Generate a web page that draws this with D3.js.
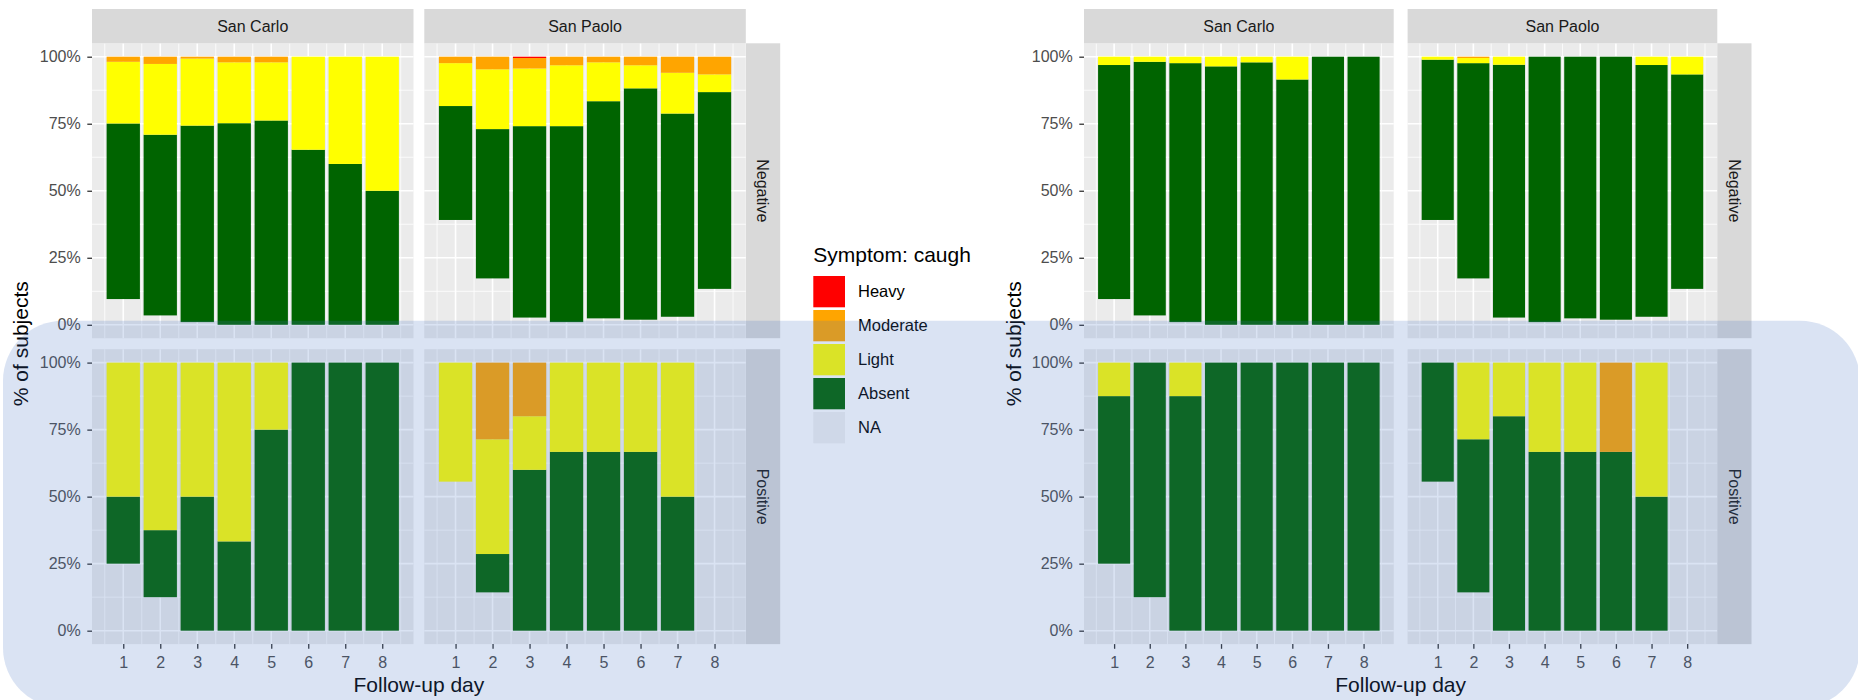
<!DOCTYPE html>
<html>
<head>
<meta charset="utf-8">
<script src="https://cdn.jsdelivr.net/npm/d3@7"></script>
<style>
  body { margin: 0; background: #fff; }
  svg { display: block; }
  text { font-family: "Liberation Sans", Arial, sans-serif; }
</style>
</head>
<body>
<svg id="chart" width="1858" height="700"></svg>
<script>
// ---- Categories and tick labels ----
const days = [1, 2, 3, 4, 5, 6, 7, 8];
const sites = ["San Carlo", "San Paolo"];
const results = ["Negative", "Positive"];
const levels = ["NA", "Absent", "Light", "Moderate", "Heavy"];   // stacking order, bottom to top
const legendOrder = ["Heavy", "Moderate", "Light", "Absent", "NA"];
const pctTicks = [0, 25, 50, 75, 100];
const legendTitle = "Symptom: caugh";

// ---- Share of subjects (%) per follow-up day ----
// Missing answers (same subjects in both symptom panels)
const naCarloNeg = [9.6, 3.5, 1.0, 0, 0, 0, 0, 0];
const naPaoloNeg = [39.1, 17.3, 2.7, 1.0, 2.4, 1.9, 3.0, 13.4];
const naCarloPos = [25, 12.5, 0, 0, 0, 0, 0, 0];
const naPaoloPos = [55.6, 14.3, 0, 0, 0, 0, 0, 0];

// Cough: rows are Absent, Light, Moderate, Heavy
const coughCarloNeg = [
  [65.5, 67.4, 73.3, 75.2, 76.2, 65.3, 60.0, 50.0],
  [23.0, 26.4, 25.0, 22.7, 21.7, 34.7, 40.0, 50.0],
  [1.9, 2.7, 0.7, 2.1, 2.1, 0, 0, 0],
  [0, 0, 0, 0, 0, 0, 0, 0]
];
const coughPaoloNeg = [
  [42.5, 55.7, 71.4, 73.1, 81.0, 86.3, 75.8, 73.4],
  [16.0, 22.3, 21.5, 22.7, 14.5, 8.6, 15.2, 6.6],
  [2.4, 4.7, 3.9, 3.2, 2.1, 3.2, 6.0, 6.6],
  [0, 0, 0.5, 0, 0, 0, 0, 0]
];
const coughCarloPos = [
  [25, 25, 50, 33.3, 75, 100, 100, 100],
  [50, 62.5, 50, 66.7, 25, 0, 0, 0],
  [0, 0, 0, 0, 0, 0, 0, 0],
  [0, 0, 0, 0, 0, 0, 0, 0]
];
const coughPaoloPos = [
  [0, 14.3, 60, 66.7, 66.7, 66.7, 50, 0],
  [44.4, 42.8, 20, 33.3, 33.3, 33.3, 50, 0],
  [0, 28.6, 20, 0, 0, 0, 0, 0],
  [0, 0, 0, 0, 0, 0, 0, 0]
];

// Second symptom: rows are Absent, Light, Moderate, Heavy
const symptomBCarloNeg = [
  [87.3, 94.6, 96.6, 96.4, 97.9, 91.5, 100, 100],
  [3.1, 1.9, 2.4, 3.6, 2.1, 8.5, 0, 0],
  [0, 0, 0, 0, 0, 0, 0, 0],
  [0, 0, 0, 0, 0, 0, 0, 0]
];
const symptomBPaoloNeg = [
  [59.8, 80.3, 94.3, 99.0, 97.6, 98.1, 93.9, 80.0],
  [1.1, 1.9, 3.0, 0, 0, 0, 3.1, 6.6],
  [0, 0.5, 0, 0, 0, 0, 0, 0],
  [0, 0, 0, 0, 0, 0, 0, 0]
];
const symptomBCarloPos = [
  [62.5, 87.5, 87.5, 100, 100, 100, 100, 100],
  [12.5, 0, 12.5, 0, 0, 0, 0, 0],
  [0, 0, 0, 0, 0, 0, 0, 0],
  [0, 0, 0, 0, 0, 0, 0, 0]
];
const symptomBPaoloPos = [
  [44.4, 57.1, 80, 66.7, 66.7, 66.7, 50, 0],
  [0, 28.6, 20, 33.3, 33.3, 0, 50, 0],
  [0, 0, 0, 0, 0, 33.3, 0, 0],
  [0, 0, 0, 0, 0, 0, 0, 0]
];

// ---- Styling ----
const fillColor = d3.scaleOrdinal()
  .domain(levels)
  .range(["#F2F2F2", "#006400", "#FFFF00", "#FFA500", "#FF0000"]);

const svg = d3.select("#chart");
svg.append("rect").attr("width", 1858).attr("height", 700).attr("fill", "#fff");

// facet grid geometry shared by both charts
const stripTop = 9;
const rowTop = [43.3, 349.2], panelH = 294.9;
const stripH = rowTop[0] - stripTop;
const stripRW = 34.2;

function buildRecords(na, rows) {
  return days.map((d, i) => {
    const r = { day: d, NA: na[i] };
    levels.slice(1).forEach((k, j) => { r[k] = rows[j][i]; });
    return r;
  });
}

function drawChart(cfg) {
  const g = svg.append("g");
  const naGrid = [[naCarloNeg, naPaoloNeg], [naCarloPos, naPaoloPos]];

  results.forEach((res, ri) => {
    const top = rowTop[ri];
    const y = d3.scaleLinear().domain([-5, 105]).range([top + panelH, top]);

    sites.forEach((site, si) => {
      const left = cfg.panelLeft[si];
      const x = d3.scaleLinear().domain([0.155, 8.845]).range([left, left + cfg.panelW]);
      const p = g.append("g");

      // panel background
      p.append("rect").attr("x", left).attr("y", top)
        .attr("width", cfg.panelW).attr("height", panelH).attr("fill", "#EBEBEB");

      // minor grid
      const minorX = d3.range(0.5, 9, 1);
      const minorY = [12.5, 37.5, 62.5, 87.5];
      p.selectAll(".mnx").data(minorX).join("line")
        .attr("x1", d => x(d)).attr("x2", d => x(d))
        .attr("y1", top).attr("y2", top + panelH)
        .attr("stroke", "#fff").attr("stroke-width", 0.8);
      p.selectAll(".mny").data(minorY).join("line")
        .attr("y1", d => y(d)).attr("y2", d => y(d))
        .attr("x1", left).attr("x2", left + cfg.panelW)
        .attr("stroke", "#fff").attr("stroke-width", 0.8);
      // major grid
      p.selectAll(".mjx").data(days).join("line")
        .attr("x1", d => x(d)).attr("x2", d => x(d))
        .attr("y1", top).attr("y2", top + panelH)
        .attr("stroke", "#fff").attr("stroke-width", 1.6);
      p.selectAll(".mjy").data(pctTicks).join("line")
        .attr("y1", d => y(d)).attr("y2", d => y(d))
        .attr("x1", left).attr("x2", left + cfg.panelW)
        .attr("stroke", "#fff").attr("stroke-width", 1.6);

      // stacked bars (missing answers left undrawn)
      const records = buildRecords(naGrid[ri][si], cfg.data[ri][si]);
      const stacked = d3.stack().keys(levels)(records);
      stacked.filter(s => s.key !== "NA").forEach(s => {
        p.selectAll(null).data(s.filter(d => d[1] - d[0] > 0)).join("rect")
          .attr("x", d => x(d.data.day - 0.45))
          .attr("width", d => x(d.data.day + 0.45) - x(d.data.day - 0.45))
          .attr("y", d => y(d[1]))
          .attr("height", d => y(d[0]) - y(d[1]))
          .attr("fill", fillColor(s.key));
      });

      // y axis on the left column only
      if (si === 0) {
        const ay = p.append("g").attr("transform", `translate(${left},0)`)
          .call(d3.axisLeft(y).tickValues(pctTicks).tickFormat(d => d + "%")
            .tickSize(4.7).tickPadding(6.6));
        ay.select(".domain").remove();
        ay.selectAll("line").attr("stroke", "#333").attr("stroke-width", 1.3);
        ay.selectAll("text").attr("fill", "#4D4D4D").attr("font-size", 16)
          .attr("font-family", "Liberation Sans, Arial, sans-serif");
      }
      // x axis on the bottom row only
      if (ri === 1) {
        const ax = p.append("g").attr("transform", `translate(0,${top + panelH})`)
          .call(d3.axisBottom(x).tickValues(days).tickFormat(d3.format("d"))
            .tickSize(4.7).tickPadding(8));
        ax.select(".domain").remove();
        ax.selectAll("line").attr("stroke", "#333").attr("stroke-width", 1.3);
        ax.selectAll("text").attr("fill", "#4D4D4D").attr("font-size", 16)
          .attr("font-family", "Liberation Sans, Arial, sans-serif");
      }

      // column strips
      if (ri === 0) {
        g.append("rect").attr("x", left).attr("y", stripTop)
          .attr("width", cfg.panelW).attr("height", stripH).attr("fill", "#D9D9D9");
        g.append("text").attr("x", left + cfg.panelW / 2).attr("y", stripTop + stripH / 2)
          .attr("dy", "0.35em").attr("text-anchor", "middle")
          .attr("font-size", 16).attr("fill", "#1A1A1A").text(site);
      }
    });

    // row strip
    g.append("rect").attr("x", cfg.stripRX).attr("y", top)
      .attr("width", stripRW).attr("height", panelH).attr("fill", "#D9D9D9");
    g.append("text")
      .attr("transform", `translate(${cfg.stripRX + stripRW / 2},${top + panelH / 2}) rotate(90)`)
      .attr("dy", "0.35em").attr("text-anchor", "middle")
      .attr("font-size", 16).attr("fill", "#1A1A1A").text(res);
  });

  // axis titles
  const panelsMid = (cfg.panelLeft[0] + cfg.panelLeft[1] + cfg.panelW) / 2;
  g.append("text").attr("x", panelsMid).attr("y", 685).attr("dy", "0.35em")
    .attr("text-anchor", "middle").attr("font-size", 21).attr("fill", "#000")
    .text("Follow-up day");
  g.append("text")
    .attr("transform", `translate(${cfg.yTitleX},${(rowTop[0] + rowTop[1] + panelH) / 2}) rotate(-90)`)
    .attr("dy", "0.35em").attr("text-anchor", "middle")
    .attr("font-size", 21).attr("fill", "#000").text("% of subjects");
}

drawChart({
  panelLeft: [92, 424.3], panelW: 321.5, stripRX: 746, yTitleX: 21,
  data: [[coughCarloNeg, coughPaoloNeg], [coughCarloPos, coughPaoloPos]]
});
drawChart({
  panelLeft: [1084, 1407.6], panelW: 309.7, stripRX: 1717.3, yTitleX: 1014,
  data: [[symptomBCarloNeg, symptomBPaoloNeg], [symptomBCarloPos, symptomBPaoloPos]]
});

// ---- Legend ----
const legend = svg.append("g").attr("transform", "translate(813.3,0)");
legend.append("text").attr("x", 0).attr("y", 255).attr("dy", "0.35em")
  .attr("font-size", 21).attr("fill", "#000").text(legendTitle);
const keyItems = legend.selectAll(".key").data(legendOrder).join("g")
  .attr("transform", (d, i) => `translate(0,${276 + i * 34})`);
keyItems.append("rect").attr("width", 31.7).attr("height", 31.3)
  .attr("fill", d => fillColor(d));
keyItems.append("text").attr("x", 44.7).attr("y", 15.6).attr("dy", "0.35em")
  .attr("font-size", 16.5).attr("fill", "#000").text(d => d);

// ---- Highlight band over the positive row ----
svg.append("rect")
  .attr("x", 3).attr("y", 320.7).attr("width", 1857).attr("height", 387)
  .attr("rx", 60).attr("ry", 60)
  .attr("fill", "rgb(68,114,196)").attr("fill-opacity", 0.2);
</script>
</body>
</html>
